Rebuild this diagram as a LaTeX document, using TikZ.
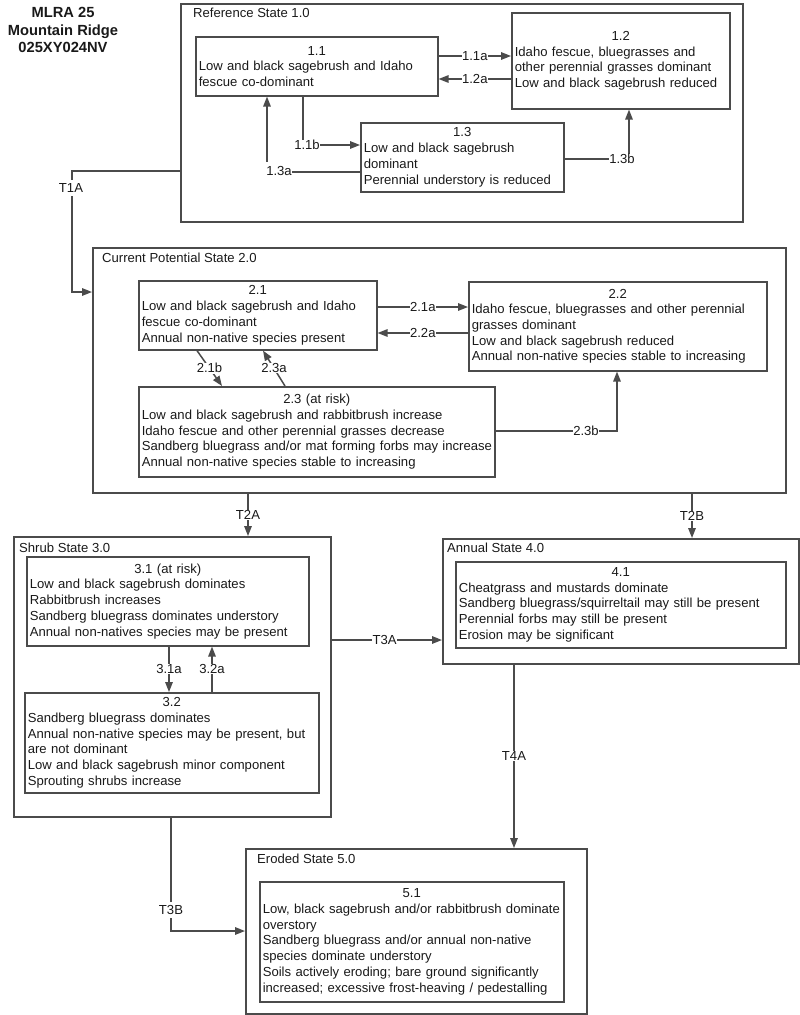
\documentclass[tikz,border=0pt]{standalone}
\usepackage{fontspec}
\setmainfont{Liberation Sans}
\usetikzlibrary{arrows.meta}
\setlength\parindent{0pt}
\definecolor{ln}{RGB}{75,75,75}
\definecolor{tx}{RGB}{25,25,25}
\tikzset{
  x=1pt,y=-1pt,
  txt/.style={font=\fontsize{13.1pt}{15.7pt}\selectfont, text=tx},
  statebox/.style={draw=ln, line width=1.6pt, anchor=north west, inner sep=0pt},
  phasebox/.style={draw=ln, line width=1.6pt, anchor=north west, inner xsep=3pt, inner ysep=0pt, align=left, txt},
  statelbl/.style={anchor=base west, inner sep=0pt, txt},
  lab/.style={fill=white, inner sep=0.5pt, txt},
  arr/.style={draw=ln, line width=1.5pt, -{Triangle[length=10pt,width=7.5pt]}},
}
\begin{document}
\begin{tikzpicture}
\useasboundingbox (0,0) rectangle (800,1015);

% title
\node[align=center, inner sep=0pt, text=tx, font=\fontsize{14.7pt}{17.5pt}\selectfont\bfseries] (title) at (63,30)
  {MLRA 25\\Mountain Ridge\\025XY024NV};

% ---------- state boxes ----------
\node[statebox, minimum width=562pt, minimum height=218pt] (S1) at (180,3) {};
\node[statelbl] (S1t) at (193,17.5) {Reference State 1.0};
\node[statebox, minimum width=693pt, minimum height=245pt] (S2) at (92,247) {};
\node[statelbl] (S2t) at (102,262.5) {Current Potential State 2.0};
\node[statebox, minimum width=317pt, minimum height=280pt] (S3) at (13,536) {};
\node[statelbl] (S3t) at (19,552.5) {Shrub State 3.0};
\node[statebox, minimum width=356pt, minimum height=125pt] (S4) at (442,538) {};
\node[statelbl] (S4t) at (447,552.5) {Annual State 4.0};
\node[statebox, minimum width=341pt, minimum height=165pt] (S5) at (245,848) {};
\node[statelbl] (S5t) at (257,863.5) {Eroded State 5.0};

% ---------- phase boxes ----------
\node[phasebox, minimum width=242pt, minimum height=59pt, text width=236pt] (b11) at (195,36)
  {{\centering 1.1\par}\mbox{Low and black sagebrush and Idaho}\\\mbox{fescue co-dominant}};
\node[phasebox, minimum width=218pt, minimum height=96pt, text width=212pt] (b12) at (511,12)
  {{\centering 1.2\par}\mbox{Idaho fescue, bluegrasses and}\\\mbox{other perennial grasses dominant}\\\mbox{Low and black sagebrush reduced}};
\node[phasebox, minimum width=203pt, minimum height=69pt, text width=197pt] (b13) at (360,122)
  {{\centering 1.3\par}\mbox{Low and black sagebrush}\\\mbox{dominant}\\\mbox{Perennial understory is reduced}};

\node[phasebox, minimum width=238pt, minimum height=69pt, text width=232pt] (b21) at (138,280)
  {{\centering 2.1\par}\mbox{Low and black sagebrush and Idaho}\\\mbox{fescue co-dominant}\\\mbox{Annual non-native species present}};
\node[phasebox, minimum width=298pt, minimum height=89pt, text width=292pt] (b22) at (468,281)
  {{\centering 2.2\par}\mbox{Idaho fescue, bluegrasses and other perennial}\\\mbox{grasses dominant}\\\mbox{Low and black sagebrush reduced}\\\mbox{Annual non-native species stable to increasing}};
\node[phasebox, minimum width=356pt, minimum height=90pt, text width=350pt] (b23) at (138,386)
  {{\centering 2.3 (at risk)\par}\mbox{Low and black sagebrush and rabbitbrush increase}\\\mbox{Idaho fescue and other perennial grasses decrease}\\\mbox{Sandberg bluegrass and/or mat forming forbs may increase}\\\mbox{Annual non-native species stable to increasing}};

\node[phasebox, minimum width=282pt, minimum height=89pt, text width=276pt] (b31) at (26,556)
  {{\centering 3.1 (at risk)\par}\mbox{Low and black sagebrush dominates}\\\mbox{Rabbitbrush increases}\\\mbox{Sandberg bluegrass dominates understory}\\\mbox{Annual non-natives species may be present}};
\node[phasebox, minimum width=294pt, minimum height=100pt, text width=288pt] (b32) at (24,692)
  {{\centering 3.2\par}\mbox{Sandberg bluegrass dominates}\\\mbox{Annual non-native species may be present, but}\\\mbox{are not dominant}\\\mbox{Low and black sagebrush minor component}\\\mbox{Sprouting shrubs increase}};

\node[phasebox, minimum width=330pt, minimum height=86pt, text width=324pt] (b41) at (455,561)
  {{\centering 4.1\par}\mbox{Cheatgrass and mustards dominate}\\\mbox{Sandberg bluegrass/squirreltail may still be present}\\\mbox{Perennial forbs may still be present}\\\mbox{Erosion may be significant}};

\node[phasebox, minimum width=304pt, minimum height=120pt, text width=298pt] (b51) at (259,881)
  {{\centering 5.1\par}\mbox{Low, black sagebrush and/or rabbitbrush dominate}\\\mbox{overstory}\\\mbox{Sandberg bluegrass and/or annual non-native}\\\mbox{species dominate understory}\\\mbox{Soils actively eroding; bare ground significantly}\\\mbox{increased; excessive frost-heaving / pedestalling}};

% ---------- connectors state 1 ----------
\draw[arr] (b11.east |- 0,56) -- (b12.west |- 0,56) node[lab, midway] (l11a) {1.1a};
\draw[arr] (b12.west |- 0,79) -- (b11.east |- 0,79) node[lab, midway] (l12a) {1.2a};
\draw[arr] (b11.south -| 303,0) |- (b13.west |- 0,145);
\node[lab] (l11b) at (307,145) {1.1b};
\draw[arr] (b13.west |- 0,172) -| (b11.south -| 267,0);
\node[lab, inner ysep=4pt] (l13a) at (279,171) {1.3a};
\draw[arr] (b13.east |- 0,159) -| (b12.south -| 629,0);
\node[lab] (l13b) at (622,159) {1.3b};

% ---------- T1A ----------
\coordinate (t1a) at (72,230);
\draw[arr] (S1.west |- 0,171) -| (t1a) |- (S2.west |- 0,292);
\node[lab, inner ysep=3pt] (lt1a) at (71,188) {T1A};

% ---------- connectors state 2 ----------
\draw[arr] (b21.east |- 0,307) -- (b22.west |- 0,307) node[lab, midway] (l21a) {2.1a};
\draw[arr] (b22.west |- 0,333) -- (b21.east |- 0,333) node[lab, midway] (l22a) {2.2a};
\draw[arr] (b21.south -| 197,0) -- (b23.north -| 222,0) node[lab, midway] (l21b) {2.1b};
\draw[arr] (b23.north -| 285,0) -- (b21.south -| 263,0) node[lab, midway] (l23a) {2.3a};
\draw[arr] (b23.east |- 0,431) -| (b22.south -| 617,0);
\node[lab] (l23b) at (586,431) {2.3b};

% ---------- transitions ----------
\draw[arr] (S2.south -| 248,0) -- (S3.north -| 248,0) node[lab, midway] (lt2a) {T2A};
\draw[arr] (S2.south -| 692,0) -- (S4.north -| 692,0) node[lab, midway] (lt2b) {T2B};
\draw[arr] (S3.east |- 0,640) -- (S4.west |- 0,640) node[lab, pos=0.48] (lt3a) {T3A};
\draw[arr] (S4.south -| 514,0) -- (S5.north -| 514,0) node[lab, midway] (lt4a) {T4A};
\draw[arr] (S3.south -| 171,0) |- (S5.west |- 0,931);
\node[lab, inner ysep=3pt] (lt3b) at (171,910) {T3B};

% ---------- connectors state 3 ----------
\draw[arr] (b31.south -| 169,0) -- (b32.north -| 169,0) node[lab, midway] (l31a) {3.1a};
\draw[arr] (b32.north -| 212,0) -- (b31.south -| 212,0) node[lab, midway] (l32a) {3.2a};

\end{tikzpicture}
\end{document}
